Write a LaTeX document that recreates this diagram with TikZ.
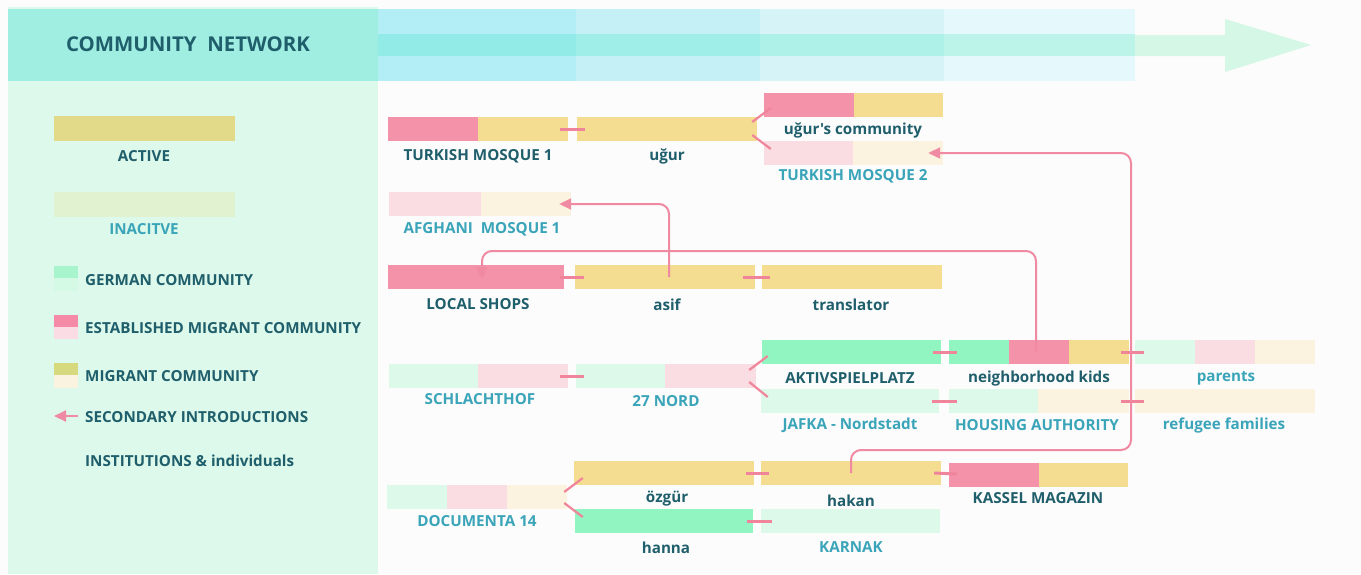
\documentclass[tikz,border=0pt]{standalone}
\usepackage{fontspec}
\newfontfamily\osans{Open Sans}
\usetikzlibrary{arrows.meta}
\definecolor{bgc}{HTML}{FCFCFC}
\definecolor{panel}{HTML}{DDF9EB}
\definecolor{headl}{HTML}{A0EEE2}
\definecolor{hcA}{HTML}{B3EEF6}
\definecolor{hcB}{HTML}{C5F0F5}
\definecolor{hcC}{HTML}{D6F4F7}
\definecolor{hcD}{HTML}{E5F8FB}
\definecolor{hsA}{HTML}{92EBE6}
\definecolor{hsB}{HTML}{9FEEE7}
\definecolor{hsC}{HTML}{AEF1E8}
\definecolor{hsD}{HTML}{BDF4EA}
\definecolor{arrowc}{HTML}{D5F7E5}
\definecolor{pinkA}{HTML}{F492AA}
\definecolor{yellowA}{HTML}{F4DC90}
\definecolor{greenA}{HTML}{90F5C0}
\definecolor{pinkI}{HTML}{FADCE3}
\definecolor{creamI}{HTML}{FBF3DF}
\definecolor{greenI}{HTML}{DCF9EA}
\definecolor{darkt}{HTML}{1F5E6B}
\definecolor{lightt}{HTML}{3AA4B9}
\definecolor{linkc}{HTML}{F0849A}
\definecolor{introc}{HTML}{F08AA2}
\definecolor{legact}{HTML}{E2DA88}
\definecolor{leginact}{HTML}{E0F2CF}
\definecolor{legGa}{HTML}{A8F5CD}
\definecolor{legGb}{HTML}{D4FAE6}
\definecolor{legEa}{HTML}{F48AA5}
\definecolor{legEb}{HTML}{FCDCE4}
\definecolor{legMa}{HTML}{D6D97E}
\definecolor{legMb}{HTML}{FAF3DF}
\newcommand\segfill[5]{\fill[#1] (#2,#3) rectangle (#4,#5);}
\begin{document}
\begin{tikzpicture}[x=1pt,y=-1pt,
  lab/.style={font=\osans\fontsize{15.2}{17}\selectfont\bfseries, text=darkt, inner sep=0pt, yshift=-1.5pt},
  ilab/.style={lab, text=lightt},
  leglab/.style={lab, anchor=west},
  titlelab/.style={font=\osans\fontsize{20.4}{23}\selectfont\bfseries, text=darkt, inner sep=0pt},
  barbox/.style={minimum width=180pt, minimum height=24pt, inner sep=0pt},
  link/.style={draw=linkc, line width=3pt},
  diag/.style={draw=linkc, line width=2.2pt},
  intro/.style={draw=introc, line width=2pt, rounded corners=10pt, -{Triangle[length=12pt,width=11pt]}}
]
\useasboundingbox (0,0) rectangle (1361,574);
\fill[bgc] (0,0) rectangle (1361,574);
% left panel and header
\fill[panel] (8,7) rectangle (378,574);
\fill[headl] (8,9) rectangle (378,81);
\fill[hcA] (378,9) rectangle (576,81);
\fill[hcB] (576,9) rectangle (760,81);
\fill[hcC] (760,9) rectangle (944,81);
\fill[hcD] (944,9) rectangle (1135,81);
\fill[hsA] (378,34) rectangle (576,56);
\fill[hsB] (576,34) rectangle (760,56);
\fill[hsC] (760,34) rectangle (944,56);
\fill[hsD] (944,34) rectangle (1135,56);
\fill[arrowc] (1135,35) -- (1225,35) -- (1225,19) -- (1311,45) -- (1225,72) -- (1225,56) -- (1135,56) -- cycle;
\node[titlelab] (title) at (188,44) {COMMUNITY\ \ NETWORK};

% legend
\node[minimum width=181pt, minimum height=25pt, inner sep=0pt, fill=legact] (legactive) at (144.5,128.5) {};
\node[lab] (legactivel) at (144,155) {ACTIVE};
\node[minimum width=181pt, minimum height=25pt, inner sep=0pt, fill=leginact] (leginactive) at (144.5,204.5) {};
\node[ilab] (leginactivel) at (144,228) {INACITVE};
\segfill{legGa}{54}{266}{78}{278}
\segfill{legGb}{54}{278}{78}{291}
\node[leglab] (leggerman) at (85,279) {GERMAN COMMUNITY};
\segfill{legEa}{54}{315}{78}{327}
\segfill{legEb}{54}{327}{78}{339}
\node[leglab] (legest) at (85,327) {ESTABLISHED MIGRANT COMMUNITY};
\segfill{legMa}{54}{363}{78}{375}
\segfill{legMb}{54}{375}{78}{388}
\node[leglab] (legmig) at (85,375) {MIGRANT COMMUNITY};
\coordinate (legarrA) at (78,416);
\coordinate (legarrB) at (54,416);
\draw[draw=introc, line width=2pt, -{Triangle[length=12pt,width=11pt]}] (legarrA) -- (legarrB);
\node[leglab] (legsec) at (85,416) {SECONDARY INTRODUCTIONS};
\node[leglab] (leginst) at (85,459) {INSTITUTIONS \& individuals};

% bar fills
\segfill{pinkA}{388}{117}{478}{141}\segfill{yellowA}{478}{117}{568}{141}
\segfill{yellowA}{577}{117}{757}{141}
\segfill{pinkA}{764}{93}{854}{117}\segfill{yellowA}{854}{93}{943}{117}
\segfill{pinkI}{764}{141}{853}{165}\segfill{creamI}{853}{141}{943}{165}
\segfill{pinkI}{389}{192}{481}{216}\segfill{creamI}{481}{192}{571}{216}
\segfill{pinkA}{388}{265}{564}{289}
\segfill{yellowA}{575}{265}{755}{289}
\segfill{yellowA}{762}{265}{942}{289}
\segfill{greenI}{389}{364}{478}{388}\segfill{pinkI}{478}{364}{568}{388}
\segfill{greenI}{576}{364}{665}{388}\segfill{pinkI}{665}{364}{756}{388}
\segfill{greenA}{762}{340}{941}{364}
\segfill{greenA}{949}{340}{1009}{364}\segfill{pinkA}{1009}{340}{1069}{364}\segfill{yellowA}{1069}{340}{1129}{364}
\segfill{greenI}{1135}{340}{1195}{364}\segfill{pinkI}{1195}{340}{1255}{364}\segfill{creamI}{1255}{340}{1315}{364}
\segfill{greenI}{761}{389}{939}{413}
\segfill{greenI}{949}{389}{1038}{413}\segfill{creamI}{1038}{389}{1129}{413}
\segfill{creamI}{1135}{389}{1315}{413}
\segfill{greenI}{387}{485}{447}{509}\segfill{pinkI}{447}{485}{507}{509}\segfill{creamI}{507}{485}{567}{509}
\segfill{yellowA}{574}{461}{754}{485}
\segfill{yellowA}{761}{461}{941}{485}
\segfill{pinkA}{949}{463}{1039}{487}\segfill{yellowA}{1039}{463}{1128}{487}
\segfill{greenA}{575}{509}{753}{533}
\segfill{greenI}{761}{509}{940}{533}

% bar nodes
\node[barbox] (tm1) at (478,129) {};
\node[barbox] (ugur) at (667,129) {};
\node[barbox, minimum width=179pt] (ucomm) at (853.5,105) {};
\node[barbox, minimum width=179pt] (tm2) at (853.5,153) {};
\node[barbox, minimum width=182pt] (afg) at (480,204) {};
\node[barbox, minimum width=176pt] (shops) at (476,277) {};
\node[barbox] (asif) at (665,277) {};
\node[barbox] (transl) at (852,277) {};
\node[barbox, minimum width=179pt] (schl) at (478.5,376) {};
\node[barbox] (nord) at (666,376) {};
\node[barbox, minimum width=179pt] (aktiv) at (851.5,352) {};
\node[barbox] (nbhd) at (1039,352) {};
\node[barbox] (parents) at (1225,352) {};
\node[barbox, minimum width=178pt] (jafka) at (850,401) {};
\node[barbox] (housing) at (1039,401) {};
\node[barbox] (refugee) at (1225,401) {};
\node[barbox] (docu) at (477,497) {};
\node[barbox] (ozgur) at (664,473) {};
\node[barbox] (hakan) at (851,473) {};
\node[barbox, minimum width=179pt] (kassel) at (1038.5,475) {};
\node[barbox, minimum width=178pt] (hanna) at (664,521) {};
\node[barbox, minimum width=179pt] (karnak) at (850.5,521) {};

% labels
\node[lab] (tm1l) at (478,155) {TURKISH MOSQUE 1};
\node[lab] (ugurl) at (667,155) {uğur};
\node[lab] (ucomml) at (853,129) {uğur's community};
\node[ilab] (tm2l) at (853,175) {TURKISH MOSQUE 2};
\node[ilab] (afgl) at (482,228) {AFGHANI\ \ MOSQUE 1};
\node[lab] (shopsl) at (478,303) {LOCAL SHOPS};
\node[lab] (asifl) at (667,303) {asif};
\node[lab] (transll) at (851,303) {translator};
\node[lab] (aktivl) at (850,377) {AKTIVSPIELPLATZ};
\node[lab] (nbhdl) at (1039,377) {neighborhood kids};
\node[ilab] (parentsl) at (1226,377) {parents};
\node[ilab] (jafkal) at (850,424) {JAFKA - Nordstadt};
\node[ilab] (housingl) at (1037,424) {HOUSING AUTHORITY};
\node[ilab] (refugeel) at (1224,424) {refugee families};
\node[ilab] (schll) at (480,398) {SCHLACHTHOF};
\node[ilab] (nordl) at (666,400) {27 NORD};
\node[ilab] (docul) at (477,520) {DOCUMENTA 14};
\node[lab] (ozgurl) at (667,497) {özgür};
\node[lab] (hakanl) at (851,499) {hakan};
\node[lab] (kassell) at (1038,497) {KASSEL MAGAZIN};
\node[lab] (hannal) at (666,546) {hanna};
\node[ilab] (karnakl) at (851,546) {KARNAK};

% short links
\draw[link] ([xshift=-8pt]tm1.east) -- ([xshift=8pt]ugur.west);
\draw[link] ([xshift=-4pt]shops.east) -- ([xshift=9pt]asif.west);
\draw[link] ([xshift=-12pt]asif.east) -- ([xshift=8pt]transl.west);
\draw[link] ([xshift=-8pt]aktiv.east) -- ([xshift=8pt]nbhd.west);
\draw[link] ([xshift=-8pt]nbhd.east) -- ([xshift=9pt]parents.west);
\draw[link] ([xshift=-7pt]jafka.east) -- ([xshift=8pt]housing.west);
\draw[link] ([xshift=-8pt]housing.east) -- ([xshift=9pt]refugee.west);
\draw[link] ([xshift=-8pt]schl.east) -- ([xshift=8pt]nord.west);
\draw[link] ([xshift=-8pt]ozgur.east) -- ([xshift=8pt]hakan.west);
\draw[link] ([xshift=-7pt]hakan.east) -- ([shift={(8,-1)}]kassel.west);
\draw[link] ([xshift=-6pt]hanna.east) -- ([xshift=11pt]karnak.west);

% diagonal links
\draw[diag] ([shift={(-5,-7)}]ugur.east) -- ([shift={(7,3)}]ucomm.west);
\draw[diag] ([shift={(-5,6)}]ugur.east) -- ([shift={(7,-4)}]tm2.west);
\draw[diag] ([shift={(-7,-6)}]nord.east) -- ([shift={(6,4)}]aktiv.west);
\draw[diag] ([shift={(-7,6)}]nord.east) -- ([shift={(7,-4)}]jafka.west);
\draw[diag] ([shift={(-3,-5)}]docu.east) -- ([shift={(9,5)}]ozgur.west);
\draw[diag] ([shift={(-3,6)}]docu.east) -- ([shift={(8,-4)}]hanna.west);

% secondary introductions
\coordinate (asifturn) at (669,204);
\draw[intro] ([xshift=4pt]asif.center) -- (asifturn) -- ([xshift=-12pt]afg.east);
\coordinate (nbhdturn) at (1036,251);
\coordinate (shopsturn) at (482,251);
\draw[intro] ([xshift=-3pt]nbhd.center) -- (nbhdturn) -- (shopsturn) -- ([xshift=6pt,yshift=-2pt]shops.center);
\coordinate (hakanturn) at (851,450);
\coordinate (rightturn) at (1131,450);
\coordinate (topturn) at (1131,153);
\draw[intro] (hakan.center) -- (hakanturn) -- (rightturn) -- (topturn) -- ([xshift=-15pt]tm2.east);
\end{tikzpicture}
\end{document}
